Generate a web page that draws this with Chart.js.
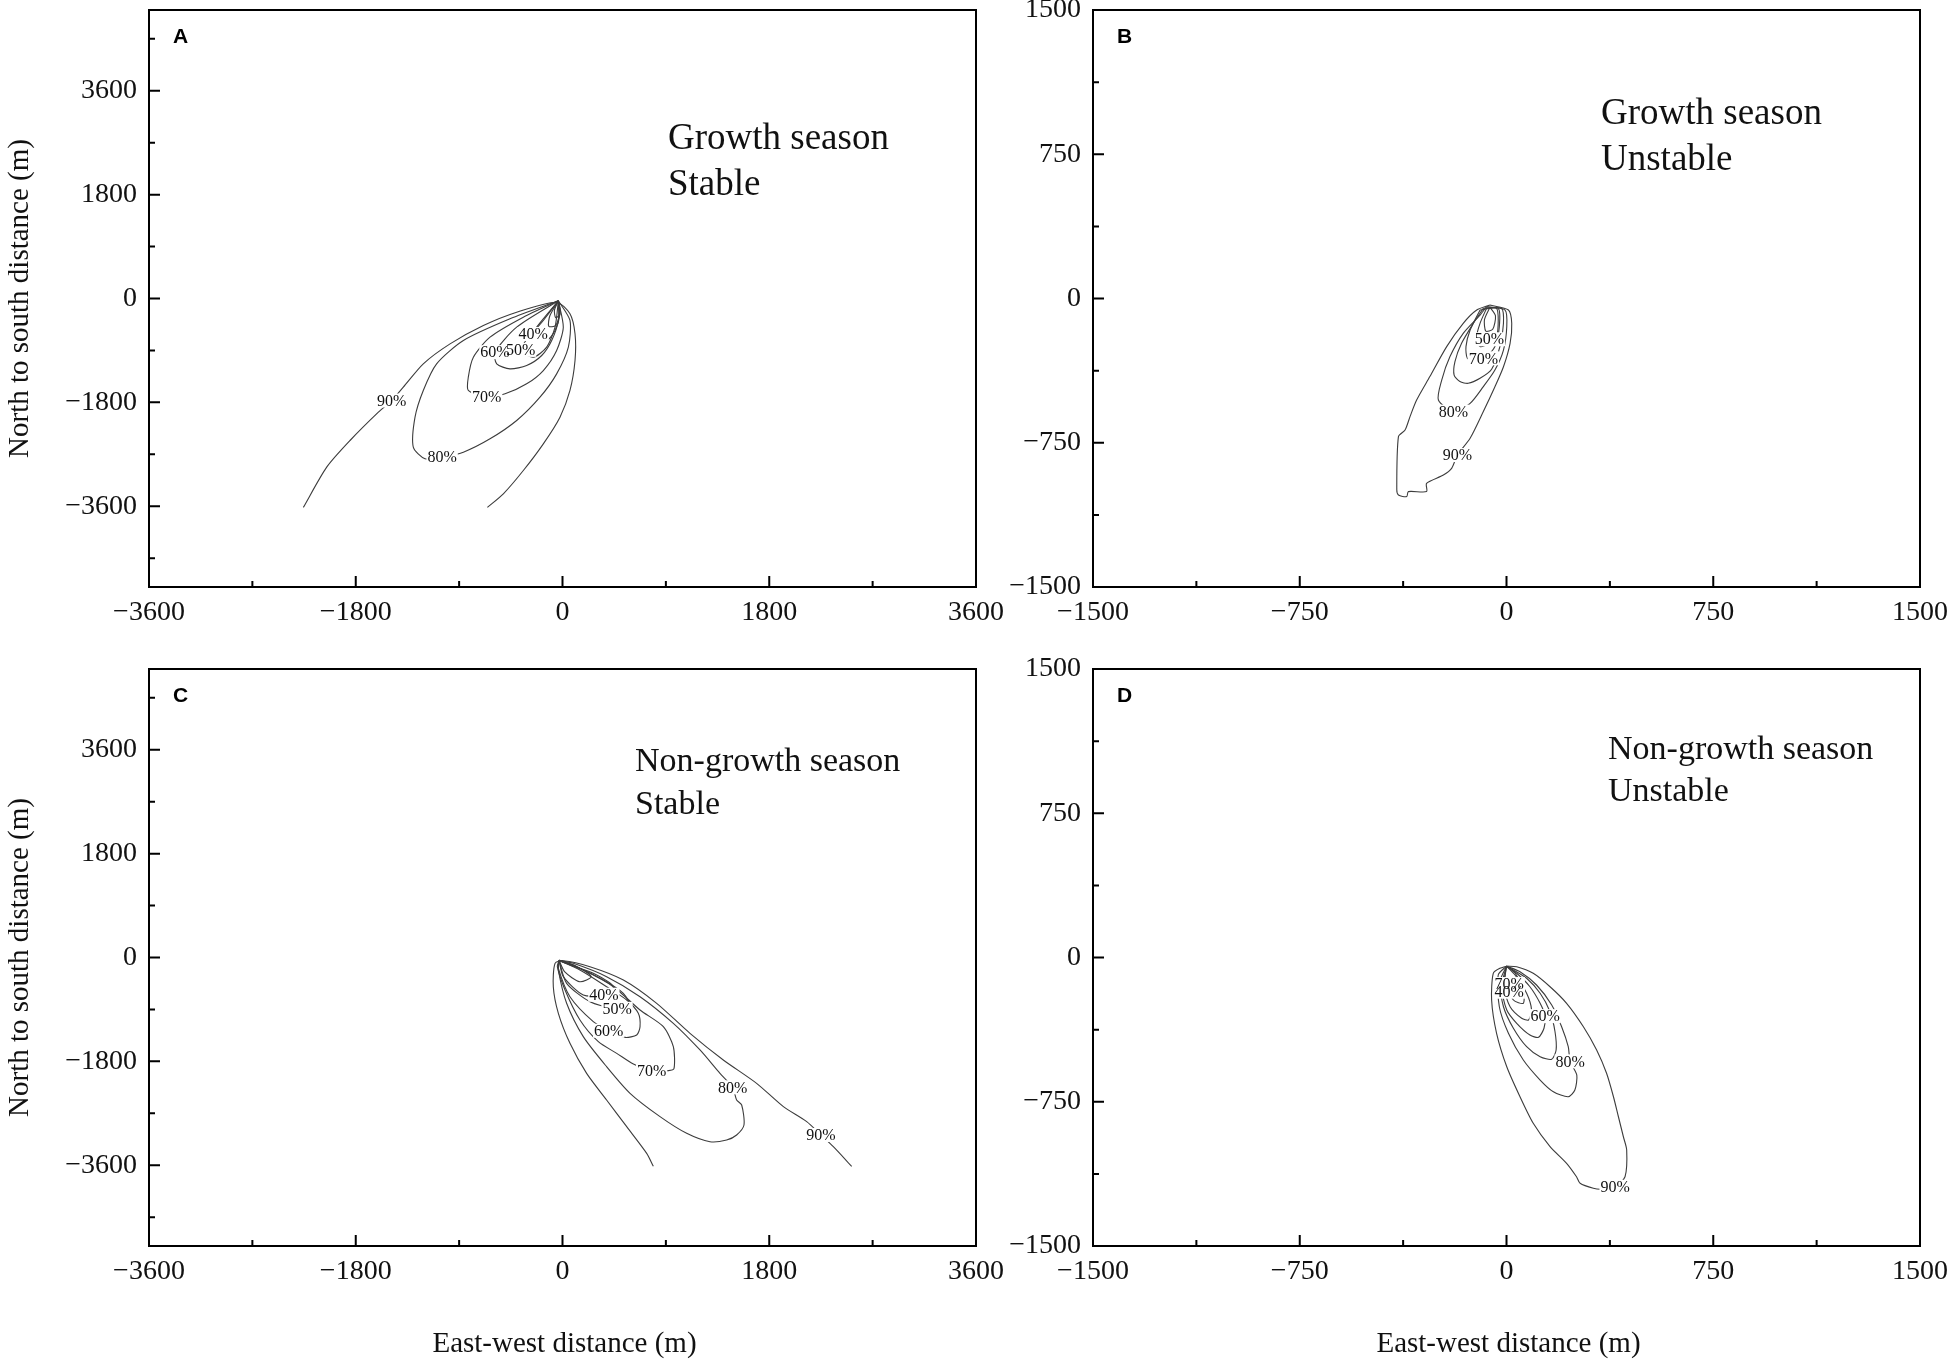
<!DOCTYPE html>
<html>
<head>
<meta charset="utf-8">
<script src="https://cdn.jsdelivr.net/npm/chart.js@4.4.0/dist/chart.umd.min.js"></script>
<style>
html, body { margin: 0; padding: 0; background: #fff; }
#wrap { position: relative; width: 1949px; height: 1359px; }
#wrap canvas { position: absolute; left: 0; top: 0; }
</style>
</head>
<body>
<div id="wrap">
  <canvas id="chartA" width="1949" height="1359"></canvas>
  <canvas id="chartB" width="1949" height="1359"></canvas>
  <canvas id="chartC" width="1949" height="1359"></canvas>
  <canvas id="chartD" width="1949" height="1359"></canvas>
</div>
<script>
// tick values
const stableTicks = [-3600, -1800, 0, 1800, 3600];
const stableMinorX = [-2700, -900, 900, 2700];
const stableMinorY = [-4500, -2700, -900, 900, 2700, 4500];
const unstableTicks = [-1500, -750, 0, 750, 1500];
const unstableMinor = [-1125, -375, 375, 1125];

// A: growth season, stable (x, y in m)
const a90 = [[-2256,-3620],[-2053,-2923],[-1850,-2461],[-1603,-1970],[-1487,-1768],[-1386,-1537],[-1212,-1132],[-979,-786],[-689,-468],[-399,-237],[-51,-64],[65,-266],[109,-612],[109,-1075],[65,-1594],[-22,-2057],[-167,-2519],[-341,-2981],[-515,-3385],[-654,-3620]];
const a80 = [[-36,-40],[-457,-352],[-863,-728],[-1096,-1132],[-1212,-1594],[-1284,-2057],[-1299,-2577],[-1197,-2779],[-1048,-2750],[-863,-2663],[-631,-2432],[-399,-2114],[-196,-1710],[-51,-1306],[51,-843],[65,-381],[-36,-40]];
const a70 = [[-36,-40],[-341,-324],[-631,-670],[-776,-1017],[-820,-1363],[-820,-1594],[-660,-1710],[-500,-1652],[-312,-1479],[-167,-1248],[-51,-901],[7,-497],[-36,-40]];
const a60 = [[-36,-40],[-399,-497],[-588,-930],[-573,-1132],[-457,-1219],[-312,-1161],[-181,-988],[-94,-728],[-36,-381],[-36,-40]];
const a50 = [[-36,-40],[-225,-497],[-365,-890],[-254,-1017],[-138,-843],[-65,-497],[-36,-40]];
const a40 = [[-36,-40],[-167,-381],[-255,-615],[-138,-728],[-65,-554],[-22,-266],[-36,-40]];
const a30 = [[-36,-40],[-110,-300],[-120,-480],[-60,-470],[-20,-220],[-36,-40]];
const a20 = [[-36,-40],[-70,-200],[-60,-330],[-25,-280],[-36,-40]];
const aLabels = [['40%',-255,-615],['50%',-365,-890],['60%',-588,-930],['70%',-660,-1710],['80%',-1048,-2750],['90%',-1487,-1768]];

// B: growth season, unstable
const b90 = [[-60,-34],[-108,-60],[-157,-129],[-217,-250],[-278,-406],[-326,-528],[-350,-614],[-368,-684],[-392,-718],[-398,-995],[-392,-1022],[-362,-1030],[-356,-1004],[-290,-1004],[-290,-961],[-229,-918],[-199,-883],[-178,-814],[-132,-727],[-84,-588],[-42,-459],[-11,-355],[13,-233],[19,-129],[7,-60],[-60,-34]];
const b80 = [[-72,-42],[-96,-86],[-157,-181],[-205,-302],[-235,-424],[-247,-528],[-193,-588],[-132,-545],[-84,-458],[-42,-372],[-11,-268],[1,-146],[-5,-60],[-72,-42]];
const b70 = [[-84,-51],[-120,-129],[-163,-233],[-187,-328],[-190,-398],[-169,-432],[-139,-441],[-96,-415],[-54,-368],[-24,-250],[-11,-129],[-18,-51],[-84,-51]];
const b60 = [[-96,-60],[-102,-77],[-132,-164],[-147,-250],[-142,-311],[-114,-328],[-72,-302],[-42,-250],[-26,-146],[-30,-51],[-96,-60]];
const b50 = [[-72,-50],[-96,-129],[-108,-198],[-96,-250],[-60,-230],[-36,-198],[-30,-112],[-36,-51],[-72,-50]];
const b40 = [[-60,-45],[-80,-110],[-75,-170],[-50,-160],[-40,-90],[-60,-45]];
const bLabels = [['50%',-62,-212],['70%',-84,-311],['80%',-193,-588],['90%',-178,-814]];

// C: non-growth season, stable
const c90 = [[791,-3620],[733,-3394],[559,-2932],[384,-2470],[210,-2008],[65,-1488],[-36,-968],[-80,-506],[-65,-101],[7,-55],[239,-159],[530,-390],[820,-794],[1110,-1314],[1400,-1776],[1690,-2181],[1923,-2585],[2126,-2845],[2250,-3076],[2358,-3279],[2518,-3620]];
const c80 = [[-30,-50],[94,-101],[384,-332],[675,-679],[965,-1141],[1197,-1603],[1371,-2008],[1481,-2250],[1516,-2470],[1560,-2556],[1580,-2903],[1516,-3076],[1429,-3163],[1284,-3192],[1081,-3047],[849,-2758],[588,-2354],[384,-1892],[181,-1372],[36,-794],[-36,-217],[-30,-50]];
const c70 = [[-30,-50],[181,-217],[443,-506],[675,-910],[878,-1199],[965,-1546],[971,-1921],[922,-1961],[776,-1961],[617,-1846],[472,-1661],[312,-1459],[152,-1083],[22,-563],[-45,-159],[-30,-50]];
const c60 = [[-30,-50],[152,-217],[384,-506],[559,-737],[660,-968],[675,-1199],[646,-1343],[544,-1384],[402,-1270],[268,-1112],[65,-679],[-36,-188],[-30,-50]];
const c50 = [[-30,-50],[123,-159],[356,-390],[530,-621],[602,-890],[475,-890],[239,-766],[36,-448],[-30,-50]];
const c40 = [[-30,-50],[65,-130],[268,-274],[443,-506],[360,-645],[181,-650],[7,-332],[-30,-50]];
const c30 = [[-30,-50],[120,-150],[250,-330],[150,-420],[20,-250],[-30,-50]];
const cLabels = [['40%',360,-645],['50%',475,-890],['60%',402,-1270],['70%',776,-1961],['80%',1481,-2250],['90%',2250,-3076]];

// D: non-growth season, unstable
const d90 = [[0,-45],[-24,-56],[-48,-82],[-54,-221],[-36,-394],[1,-568],[49,-724],[97,-862],[158,-983],[218,-1070],[254,-1140],[267,-1174],[315,-1200],[345,-1205],[394,-1192],[430,-1140],[436,-1001],[424,-932],[406,-828],[388,-724],[363,-602],[327,-481],[279,-360],[218,-238],[158,-152],[97,-82],[37,-48],[0,-45]];
const d80 = [[0,-45],[-30,-91],[-26,-256],[7,-394],[61,-533],[122,-637],[170,-698],[224,-724],[248,-689],[255,-611],[231,-540],[224,-464],[200,-360],[164,-247],[109,-143],[49,-74],[0,-45]];
const d70 = [[0,-45],[-24,-126],[-11,-256],[25,-368],[73,-464],[122,-516],[164,-529],[180,-481],[176,-386],[158,-282],[122,-186],[73,-108],[25,-65],[0,-45]];
const d60 = [[0,-45],[-18,-152],[1,-273],[37,-342],[85,-403],[116,-415],[136,-368],[140,-305],[122,-238],[85,-152],[37,-82],[0,-45]];
const d50 = [[0,-45],[-10,-150],[13,-256],[55,-316],[80,-325],[91,-273],[73,-186],[31,-91],[0,-45]];
const d40 = [[0,-45],[-5,-120],[25,-221],[61,-238],[61,-169],[31,-80],[0,-45]];
const dLabels = [['70%',10,-138],['40%',10,-178],['60%',140,-305],['80%',231,-540],['90%',394,-1192]];

const W = 1949, H = 1359;
const YAXIS_W = 140, XAXIS_H = 60;
const SERIF = '"Liberation Serif", "Times New Roman", serif';

const decor = {
  id: 'decor',
  afterDatasetsDraw(chart, args, o) {
    const ctx = chart.ctx, xs = chart.scales.x, ys = chart.scales.y, a = chart.chartArea;
    ctx.save();
    // contour labels, white box breaks the line underneath
    ctx.font = '16px ' + SERIF;
    ctx.textAlign = 'center';
    ctx.textBaseline = 'middle';
    ctx.fillStyle = '#fff';
    o.labels.forEach(([t, x, y]) => {
      const w = ctx.measureText(t).width;
      ctx.fillRect(xs.getPixelForValue(x) - w / 2 - 1, ys.getPixelForValue(y) - 7, w + 2, 14);
    });
    ctx.fillStyle = '#111';
    o.labels.forEach(([t, x, y]) => ctx.fillText(t, xs.getPixelForValue(x), ys.getPixelForValue(y) + 1));

    // frame + inward ticks
    ctx.strokeStyle = '#000';
    ctx.lineWidth = 2;
    ctx.strokeRect(a.left, a.top, a.right - a.left, a.bottom - a.top);
    ctx.beginPath();
    const xt = (vals, len) => vals.forEach(v => {
      const p = xs.getPixelForValue(v);
      ctx.moveTo(p, a.bottom); ctx.lineTo(p, a.bottom - len);
    });
    const yt = (vals, len) => vals.forEach(v => {
      const p = ys.getPixelForValue(v);
      ctx.moveTo(a.left, p); ctx.lineTo(a.left + len, p);
    });
    xt(o.xMajor, 11); xt(o.xMinor, 6);
    yt(o.yMajor, 11); yt(o.yMinor, 6);
    ctx.stroke();

    // panel letter
    ctx.fillStyle = '#000';
    ctx.textAlign = 'left';
    ctx.textBaseline = 'alphabetic';
    ctx.font = 'bold 21px "Liberation Sans", Arial, sans-serif';
    ctx.fillText(o.letter, a.left + 24, a.top + 33);

    // season / stability note
    ctx.fillStyle = '#111';
    ctx.font = o.noteSize + 'px ' + SERIF;
    o.note.forEach((t, i) => ctx.fillText(t, o.noteX, o.noteY + i * o.noteGap));

    // axis titles
    ctx.font = '29px ' + SERIF;
    ctx.textAlign = 'center';
    if (o.yTitle) {
      ctx.save();
      ctx.translate(28, (a.top + a.bottom) / 2);
      ctx.rotate(-Math.PI / 2);
      ctx.fillText(o.yTitle, 0, 0);
      ctx.restore();
    }
    if (o.xTitle) ctx.fillText(o.xTitle, (a.left + a.right) / 2 + 2, 1352);
    ctx.restore();
  }
};

const fmt = v => (v < 0 ? '\u2212' + Math.abs(v) : String(v));

function makePanel(id, box, xr, yr, major, minorX, minorY, contours, labels, extra) {
  const ds = contours.map(c => ({
    data: c.map(p => ({ x: p[0], y: p[1] })),
    showLine: true,
    borderColor: '#3c3c3c',
    borderWidth: 1.1,
    pointRadius: 0,
    tension: 0.25,
    fill: false
  }));
  const tickFont = { family: '"Liberation Serif", "Times New Roman", serif', size: 28 };
  new Chart(document.getElementById(id), {
    type: 'scatter',
    data: { datasets: ds },
    options: {
      responsive: false,
      animation: false,
      events: [],
      layout: { padding: { left: box[0] - YAXIS_W, top: box[1], right: W - box[2], bottom: H - box[3] - XAXIS_H } },
      plugins: {
        legend: { display: false },
        tooltip: { enabled: false },
        decor: Object.assign({ labels: labels, xMajor: major, xMinor: minorX, yMajor: major, yMinor: minorY }, extra)
      },
      scales: {
        x: {
          type: 'linear', min: -xr, max: xr,
          grid: { display: false, drawTicks: false },
          border: { display: false },
          afterFit: s => { s.height = XAXIS_H; s.paddingLeft = 0; s.paddingRight = 0; },
          afterBuildTicks: s => { s.ticks = major.map(v => ({ value: v })); },
          ticks: { padding: 9, font: tickFont, color: '#111', maxRotation: 0, autoSkip: false, callback: fmt }
        },
        y: {
          type: 'linear', min: -yr, max: yr,
          grid: { display: false, drawTicks: false },
          border: { display: false },
          afterFit: s => { s.width = YAXIS_W; s.paddingTop = 0; s.paddingBottom = 0; },
          afterBuildTicks: s => { s.ticks = major.map(v => ({ value: v })); },
          ticks: { padding: 12, font: tickFont, color: '#111', autoSkip: false, callback: fmt }
        }
      }
    },
    plugins: [decor]
  });
}

makePanel('chartA', [149, 10, 976, 587], 3600, 5000, stableTicks, stableMinorX, stableMinorY,
  [a90, a80, a70, a60, a50, a40, a30, a20], aLabels,
  { letter: 'A', note: ['Growth season', 'Stable'], noteSize: 37, noteX: 668, noteY: 149, noteGap: 46,
    yTitle: 'North to south distance (m)' });

makePanel('chartB', [1093, 10, 1920, 587], 1500, 1500, unstableTicks, unstableMinor, unstableMinor,
  [b90, b80, b70, b60, b50, b40], bLabels,
  { letter: 'B', note: ['Growth season', 'Unstable'], noteSize: 37, noteX: 1601, noteY: 124, noteGap: 46 });

makePanel('chartC', [149, 669, 976, 1246], 3600, 5000, stableTicks, stableMinorX, stableMinorY,
  [c90, c80, c70, c60, c50, c40, c30], cLabels,
  { letter: 'C', note: ['Non-growth season', 'Stable'], noteSize: 34, noteX: 635, noteY: 771, noteGap: 43,
    yTitle: 'North to south distance (m)', xTitle: 'East-west distance (m)' });

makePanel('chartD', [1093, 669, 1920, 1246], 1500, 1500, unstableTicks, unstableMinor, unstableMinor,
  [d90, d80, d70, d60, d50, d40], dLabels,
  { letter: 'D', note: ['Non-growth season', 'Unstable'], noteSize: 34, noteX: 1608, noteY: 759, noteGap: 42,
    xTitle: 'East-west distance (m)' });
</script>
</body>
</html>
